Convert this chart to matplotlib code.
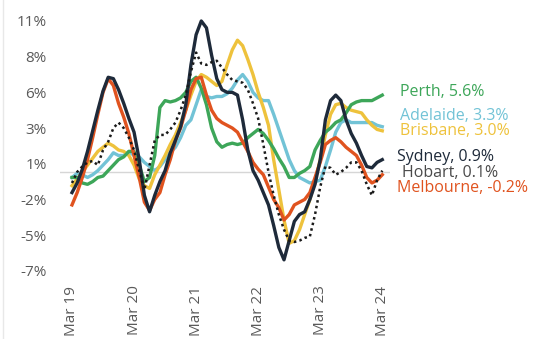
import matplotlib
matplotlib.use("Agg")
import matplotlib.pyplot as plt
from matplotlib.lines import Line2D

# Monthly growth (%), Mar 2019 .. Mar 2024 (61 months)
perth = [-0.4, -0.4, -0.8, -0.9, -0.7, -0.4, -0.3, 0.1, 0.5, 0.9,
         1.1, 1.5, 1.5, 0.5, -0.7, -0.4, 1.2, 4.7, 5.2, 5.1,
         5.2, 5.4, 5.8, 6.6, 6.9, 6.1, 4.9, 3.2, 2.2, 1.8,
         2.0, 2.1, 2.0, 2.1, 2.5, 2.8, 3.1, 2.8, 2.3, 1.7,
         1.0, 0.4, -0.4, -0.4, -0.1, 0.1, 0.4, 1.6, 2.3, 2.9,
         3.2, 3.6, 3.8, 4.3, 4.9, 5.1, 5.2, 5.2, 5.2, 5.4,
         5.6]
adelaide = [-0.4, -0.1, -0.2, -0.4, -0.2, 0.1, 0.5, 0.9, 1.4, 1.2,
            1.2, 1.5, 1.2, 1.1, 0.7, 0.4, 0.1, 0.4, 0.9, 1.4,
            1.8, 2.5, 3.4, 3.8, 4.9, 6.0, 5.5, 5.4, 5.5, 5.5,
            5.7, 6.1, 6.7, 7.1, 6.6, 5.8, 5.4, 5.2, 5.2, 4.2,
            3.1, 2.0, 0.9, 0.1, -0.4, -0.6, -0.8, -0.7, -0.6, 0.4,
            1.6, 2.9, 3.6, 3.8, 3.6, 3.6, 3.6, 3.6, 3.6, 3.4,
            3.3]
brisbane = [-1.0, -0.5, 0.0, 0.5, 1.0, 1.5, 1.8, 2.1, 1.9, 1.6,
            1.5, 1.2, 0.5, -0.5, -1.0, -1.2, -0.2, 0.5, 1.2, 2.0,
            2.7, 3.6, 4.5, 5.6, 6.6, 7.1, 6.9, 6.6, 6.3, 6.6,
            7.8, 8.9, 9.6, 9.2, 8.2, 7.1, 5.8, 4.7, 3.4, 0.9,
            -1.3, -3.5, -5.2, -5.0, -4.2, -3.1, -2.0, -0.6, 0.9, 2.7,
            4.2, 4.9, 5.0, 4.7, 4.5, 4.4, 4.3, 3.8, 3.4, 3.1,
            3.0]
sydney = [-1.5, -0.8, 0.2, 1.5, 3.0, 4.5, 5.9, 6.9, 6.8, 6.0,
          5.0, 3.9, 2.9, 0.9, -1.7, -2.9, -1.7, -0.7, 0.1, 1.4,
          2.3, 3.3, 4.9, 7.8, 10.0, 11.0, 10.5, 8.5, 6.8, 6.0,
          5.8, 5.8, 5.6, 3.8, 1.6, 0.1, -0.6, -1.5, -2.4, -3.9,
          -5.5, -6.4, -5.0, -3.6, -3.1, -2.9, -2.0, -0.9, 0.9, 3.8,
          5.2, 5.6, 5.2, 3.8, 2.8, 2.1, 1.2, 0.4, 0.3, 0.7,
          0.9]
hobart = [-0.8, 0.0, 0.4, 0.7, 0.8, 0.5, 1.6, 2.2, 3.2, 3.6,
          3.2, 2.5, 1.6, 0.1, -1.3, 0.5, 2.3, 2.7, 2.7, 3.1,
          3.6, 4.5, 5.6, 7.3, 8.7, 7.9, 7.8, 8.0, 8.1, 7.6,
          7.1, 6.7, 6.6, 6.5, 6.0, 5.0, 3.9, 2.0, 0.0, -1.7,
          -3.1, -4.2, -5.0, -5.1, -5.0, -4.8, -4.7, -3.1, -1.1, 0.4,
          0.3, -0.2, 0.0, 0.3, 0.7, 0.7, 0.1, -0.9, -1.7, -0.6,
          0.1]
melbourne = [-2.4, -1.5, -0.4, 0.9, 2.5, 4.2, 5.8, 6.8, 6.3, 5.0,
             4.0, 2.8, 1.2, -0.4, -2.2, -2.8, -2.0, -1.5, -0.2, 0.9,
             2.3, 3.2, 4.5, 6.0, 6.8, 6.9, 5.6, 4.5, 3.9, 3.6,
             3.4, 3.2, 2.9, 2.2, 1.5, 0.7, 0.2, -0.2, -1.1, -2.0,
             -2.6, -3.5, -3.1, -2.4, -2.2, -2.0, -1.5, -0.4, 0.7, 2.0,
             2.3, 2.5, 2.2, 1.8, 1.5, 1.2, 0.5, -0.4, -0.8, -0.6,
             -0.2]

cities = ["Perth", "Adelaide", "Brisbane", "Sydney", "Hobart", "Melbourne"]
latest = [5.6, 3.3, 3.0, 0.9, 0.1, -0.2]

x_tick_pos = [0, 12, 24, 36, 48, 60]
x_tick_labels = ["Mar 19", "Mar 20", "Mar 21", "Mar 22", "Mar 23", "Mar 24"]
y_tick_pos = [11.0, 8.4, 5.8, 3.2, 0.6, -2.0, -4.6, -7.2]
y_tick_labels = ["11%", "8%", "6%", "3%", "1%", "-2%", "-5%", "-7%"]

colors = {
    "Perth": "#3da659",
    "Adelaide": "#72c3d6",
    "Brisbane": "#eec23c",
    "Sydney": "#1e2a3a",
    "Hobart": "#1a1a1a",
    "Melbourne": "#e0531f",
}
series = {
    "Perth": perth, "Adelaide": adelaide, "Brisbane": brisbane,
    "Sydney": sydney, "Hobart": hobart, "Melbourne": melbourne,
}

plt.rcParams["font.family"] = ["Open Sans", "DejaVu Sans"]

fig = plt.figure(figsize=(5.42, 3.39), dpi=100)
ax = fig.add_axes([0.1107, 0.174, 0.6089, 0.7965])

months = list(range(len(perth)))
ax.axhline(0, color="#d6d6d6", lw=1.0, zorder=1)

draw_order = ["Adelaide", "Brisbane", "Perth", "Melbourne", "Sydney", "Hobart"]
for name in draw_order:
    if name == "Hobart":
        ax.plot(months, series[name], color=colors[name], lw=1.8,
                ls=(0, (1, 1.3)), zorder=6)
    else:
        ax.plot(months, series[name], color=colors[name], lw=2.4,
                solid_joinstyle="round", zorder=3)

ax.set_xlim(-2.32, 61.5)
ax.set_ylim(-7.87, 11.8)
ax.set_xticks(x_tick_pos)
ax.set_xticklabels(x_tick_labels, rotation=90, fontsize=11, color="#5a5a5a")
ax.set_yticks(y_tick_pos)
ax.set_yticklabels(y_tick_labels, fontsize=11, color="#5a5a5a")
ax.tick_params(axis="both", length=0)
ax.tick_params(axis="y", pad=9.4)
ax.tick_params(axis="x", pad=4)
for s in ax.spines.values():
    s.set_visible(False)

# End-of-series labels
label_y = {"Perth": 5.8, "Adelaide": 4.1, "Brisbane": 2.96,
           "Sydney": 1.12, "Hobart": -0.07, "Melbourne": -1.2}
label_x = {"Perth": 63.4, "Adelaide": 63.4, "Brisbane": 63.4,
           "Sydney": 62.85, "Hobart": 63.8, "Melbourne": 62.85}
text_colors = dict(colors)
text_colors["Hobart"] = "#4a4a4a"
for name, val in zip(cities, latest):
    ax.text(label_x[name], label_y[name], f"{name}, {val:.1f}%",
            color=text_colors[name], fontsize=11.5, va="center", ha="left",
            clip_on=False,
            fontweight="normal" if name == "Hobart" else "medium")

fig.add_artist(Line2D([0.006, 0.006], [0, 1], color="#e8e8e8", lw=1.0))

fig.savefig("out.png", dpi=100, facecolor="white")
